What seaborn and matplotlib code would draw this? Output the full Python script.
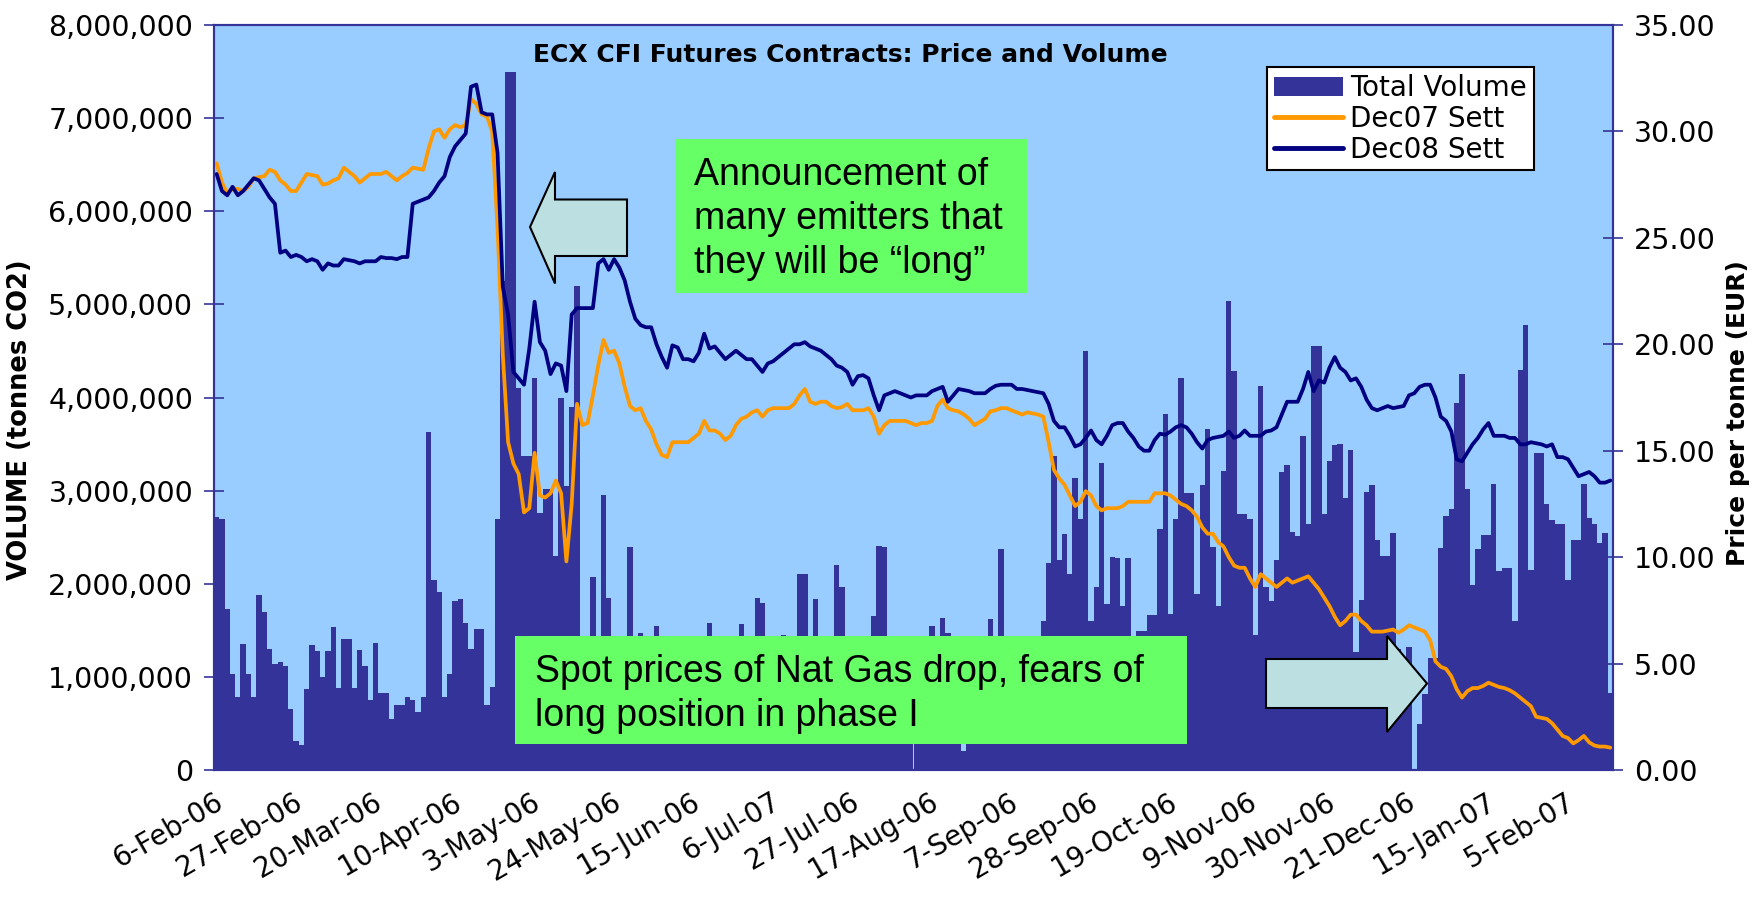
import numpy as np
import pandas as pd
import matplotlib
matplotlib.use("Agg")
import matplotlib.pyplot as plt
import matplotlib.transforms as mtransforms
import seaborn as sns
from matplotlib.patches import Rectangle, Polygon, Patch
from matplotlib.lines import Line2D
from matplotlib.ticker import FuncFormatter, MultipleLocator

# Total daily volume, million tonnes CO2 (one row = 15 trading days)
volume_mt = [
    2.72, 2.70, 1.73, 1.03, 0.78, 1.35, 1.03, 0.78, 1.88, 1.70, 1.30, 1.14, 1.16, 1.12, 0.66,
    0.31, 0.27, 0.87, 1.34, 1.28, 1.00, 1.28, 1.54, 0.88, 1.41, 1.41, 0.88, 1.29, 1.12, 0.75,
    1.36, 0.83, 0.83, 0.55, 0.70, 0.70, 0.78, 0.75, 0.62, 0.78, 3.63, 2.04, 1.91, 0.78, 1.03,
    1.82, 1.84, 1.58, 1.30, 1.51, 1.51, 0.70, 0.89, 2.69, 5.25, 7.50, 7.50, 4.10, 3.37, 3.37,
    4.21, 2.76, 3.02, 3.02, 2.30, 4.00, 3.05, 3.90, 5.20, 1.10, 1.00, 2.07, 1.42, 2.95, 1.85,
    1.20, 0.90, 1.10, 2.40, 0.90, 1.47, 0.80, 1.10, 1.55, 1.00, 0.80, 1.20, 0.90, 1.10, 0.70,
    0.90, 1.20, 1.00, 1.58, 0.80, 1.30, 1.00, 0.90, 1.20, 1.57, 1.00, 1.30, 1.85, 1.79, 1.10,
    0.80, 1.20, 1.45, 1.10, 0.90, 2.11, 2.11, 1.00, 1.84, 1.20, 0.90, 1.30, 2.20, 1.96, 1.10,
    0.80, 1.00, 1.30, 0.90, 1.65, 2.41, 2.39, 1.20, 0.90, 1.10, 1.00, 0.80, 1.20, 0.90, 1.00,
    1.55, 1.20, 1.63, 1.47, 1.00, 0.90, 0.20, 1.10, 0.80, 1.20, 1.00, 1.62, 1.20, 2.37, 1.00,
    0.90, 1.20, 0.80, 1.00, 1.30, 1.20, 1.60, 2.22, 3.37, 2.25, 2.53, 2.11, 3.14, 2.70, 4.50,
    1.60, 1.96, 3.30, 1.78, 2.29, 2.28, 1.76, 2.28, 1.20, 1.49, 1.49, 1.66, 1.66, 2.59, 3.82,
    1.68, 2.70, 4.21, 2.97, 2.97, 1.89, 3.06, 3.66, 2.40, 1.76, 3.21, 5.04, 4.28, 2.75, 2.75,
    2.70, 1.45, 4.12, 1.96, 1.81, 2.25, 3.20, 3.28, 2.56, 2.51, 3.59, 2.64, 4.55, 4.55, 2.75,
    3.32, 3.49, 3.50, 2.92, 3.44, 1.27, 1.83, 2.98, 3.06, 2.47, 2.30, 2.30, 2.54, 1.30, 1.20,
    1.32, 0.00, 0.49, 0.82, 1.20, 1.20, 2.38, 2.73, 2.80, 3.94, 4.25, 3.02, 1.99, 2.37, 2.52,
    2.52, 3.07, 2.14, 2.17, 2.17, 1.60, 4.30, 4.78, 2.15, 3.40, 3.40, 2.86, 2.68, 2.64, 2.64,
    2.04, 2.47, 2.47, 3.07, 2.71, 2.64, 2.44, 2.54, 0.83,
]

# Dec07 settlement price, EUR/t
dec07 = [
    28.5, 27.6, 27.1, 27.3, 27.3, 27.2, 27.4, 27.8, 27.85, 27.9, 28.2, 28.1, 27.7, 27.5, 27.2,
    27.2, 27.6, 28.0, 27.95, 27.9, 27.5, 27.55, 27.7, 27.8, 28.3, 28.1, 27.9, 27.6, 27.8, 28.0,
    28.0, 28.0, 28.1, 27.9, 27.7, 27.9, 28.05, 28.3, 28.25, 28.2, 29.2, 30.0, 30.1, 29.7, 30.1,
    30.3, 30.2, 30.3, 31.5, 31.3, 30.8, 30.7, 30.0, 25.5, 19.5, 15.4, 14.4, 13.9, 12.1, 12.3,
    14.9, 12.9, 12.8, 13.0, 13.6, 13.0, 9.8, 12.5, 17.2, 16.2, 16.3, 17.6, 19.0, 20.2, 19.6,
    19.7, 19.1, 18.0, 17.1, 16.9, 17.0, 16.4, 16.0, 15.3, 14.8, 14.7, 15.4, 15.4, 15.4, 15.4,
    15.6, 15.8, 16.4, 15.95, 15.95, 15.8, 15.5, 15.7, 16.2, 16.5, 16.6, 16.8, 16.9, 16.6, 16.9,
    17.0, 17.0, 17.0, 17.0, 17.2, 17.6, 17.9, 17.3, 17.2, 17.3, 17.3, 17.1, 17.0, 17.05, 17.2,
    16.9, 16.9, 16.9, 17.0, 16.6, 15.8, 16.2, 16.4, 16.4, 16.4, 16.4, 16.3, 16.2, 16.3, 16.3,
    16.4, 17.1, 17.4, 17.0, 16.9, 16.85, 16.7, 16.5, 16.2, 16.35, 16.5, 16.85, 16.9, 17.0, 17.0,
    16.9, 16.8, 16.7, 16.8, 16.75, 16.7, 16.6, 15.4, 14.1, 13.7, 13.4, 12.9, 12.4, 12.6, 13.1,
    12.9, 12.4, 12.2, 12.3, 12.3, 12.3, 12.4, 12.6, 12.6, 12.6, 12.6, 12.6, 13.0, 13.0, 13.0,
    12.9, 12.7, 12.5, 12.4, 12.2, 11.9, 11.4, 11.1, 11.1, 10.7, 10.5, 10.0, 9.6, 9.5, 9.5,
    9.0, 8.6, 9.2, 9.0, 8.8, 8.6, 8.8, 9.0, 8.8, 8.9, 9.0, 9.1, 8.8, 8.5, 8.1,
    7.7, 7.2, 6.8, 7.0, 7.3, 7.3, 7.0, 6.8, 6.5, 6.5, 6.5, 6.55, 6.6, 6.45, 6.6,
    6.8, 6.7, 6.6, 6.5, 6.1, 5.1, 4.85, 4.75, 4.4, 3.8, 3.4, 3.7, 3.85, 3.85, 3.95,
    4.1, 4.0, 3.9, 3.85, 3.75, 3.6, 3.4, 3.2, 3.0, 2.5, 2.45, 2.4, 2.2, 1.9, 1.6,
    1.5, 1.25, 1.4, 1.6, 1.3, 1.15, 1.1, 1.1, 1.05,
]

# Dec08 settlement price, EUR/t
dec08 = [
    28.0, 27.2, 27.0, 27.4, 27.0, 27.2, 27.5, 27.8, 27.7, 27.3, 26.9, 26.6, 24.3, 24.4, 24.1,
    24.2, 24.1, 23.9, 24.0, 23.9, 23.5, 23.8, 23.7, 23.7, 24.0, 23.95, 23.9, 23.8, 23.9, 23.9,
    23.9, 24.1, 24.05, 24.05, 24.0, 24.1, 24.1, 26.6, 26.7, 26.8, 26.9, 27.2, 27.6, 27.9, 28.8,
    29.3, 29.6, 29.9, 32.1, 32.2, 30.9, 30.8, 30.8, 29.0, 22.7, 21.4, 18.7, 18.4, 18.1, 19.8,
    22.0, 20.1, 19.7, 18.6, 19.1, 19.0, 17.8, 21.4, 21.7, 21.7, 21.7, 21.7, 23.8, 24.0, 23.5,
    24.0, 23.6, 23.0, 22.0, 21.2, 20.9, 20.8, 20.8, 20.0, 19.4, 18.9, 19.95, 19.85, 19.3, 19.3,
    19.2, 19.6, 20.5, 19.8, 19.9, 19.6, 19.3, 19.5, 19.7, 19.5, 19.3, 19.3, 19.0, 18.7, 19.1,
    19.2, 19.4, 19.6, 19.8, 20.0, 20.0, 20.1, 19.9, 19.8, 19.7, 19.5, 19.3, 19.0, 18.9, 18.7,
    18.1, 18.5, 18.55, 18.4, 17.6, 16.9, 17.6, 17.7, 17.8, 17.7, 17.6, 17.5, 17.6, 17.6, 17.6,
    17.8, 17.9, 18.0, 17.3, 17.6, 17.9, 17.85, 17.8, 17.7, 17.7, 17.7, 17.9, 18.05, 18.1, 18.1,
    18.1, 17.9, 17.9, 17.85, 17.8, 17.75, 17.7, 17.2, 16.4, 16.1, 16.1, 15.7, 15.2, 15.3, 15.6,
    15.95, 15.5, 15.3, 15.7, 16.2, 16.3, 16.3, 15.9, 15.6, 15.2, 15.0, 15.0, 15.5, 15.8, 15.75,
    15.9, 16.1, 16.2, 16.1, 15.8, 15.4, 15.1, 15.5, 15.6, 15.65, 15.7, 15.9, 15.6, 15.7, 15.95,
    15.7, 15.7, 15.7, 15.9, 15.95, 16.1, 16.7, 17.3, 17.3, 17.3, 17.9, 18.7, 17.8, 18.3, 18.2,
    18.9, 19.4, 18.9, 18.7, 18.3, 18.4, 18.0, 17.4, 17.0, 16.9, 17.0, 17.1, 17.0, 17.05, 17.1,
    17.6, 17.7, 18.0, 18.1, 18.1, 17.5, 16.6, 16.4, 15.9, 14.6, 14.5, 14.9, 15.3, 15.6, 16.0,
    16.3, 15.7, 15.7, 15.7, 15.6, 15.6, 15.3, 15.3, 15.4, 15.35, 15.3, 15.2, 15.3, 14.7, 14.7,
    14.6, 14.2, 13.8, 13.9, 14.0, 13.8, 13.5, 13.5, 13.6,
]

tick_labels = ["6-Feb-06", "27-Feb-06", "20-Mar-06", "10-Apr-06", "3-May-06", "24-May-06",
               "15-Jun-06", "6-Jul-07", "27-Jul-06", "17-Aug-06", "7-Sep-06", "28-Sep-06",
               "19-Oct-06", "9-Nov-06", "30-Nov-06", "21-Dec-06", "15-Jan-07", "5-Feb-07"]

vol_color = "#333399"
dec07_color = "#FF9900"
dec08_color = "#000080"
bg_color = "#99CCFF"
green = "#66FF66"
arrow_fill = "#BCE0E2"
axis_color = "#333399"

sns.set_style("white")
plt.rcParams["font.family"] = ["DejaVu Sans"]
plt.rcParams["text.color"] = "black"
plt.rcParams["axes.labelcolor"] = "black"
plt.rcParams["xtick.labelcolor"] = "black"
plt.rcParams["ytick.labelcolor"] = "black"

df = pd.DataFrame({
    "day": np.arange(len(volume_mt)),
    "volume": np.array(volume_mt) * 1e6,
    "dec07": dec07,
    "dec08": dec08,
})
n = len(df)

W, H = 1762, 900
L, R, T, B = 214, 1613, 25, 770
fig = plt.figure(figsize=(W / 100, H / 100), dpi=100)
ax = fig.add_axes([L / W, 1 - B / H, (R - L) / W, (B - T) / H])
ax.set_facecolor(bg_color)

# volume bars
sns.barplot(data=df, x="day", y="volume", native_scale=True, width=1.0, color=vol_color,
            saturation=1, errorbar=None, linewidth=0, ax=ax)

# price lines on the right axis
ax2 = ax.twinx()
sns.lineplot(data=df, x="day", y="dec07", color=dec07_color, lw=2.7, ax=ax2)
sns.lineplot(data=df, x="day", y="dec08", color=dec08_color, lw=2.7, ax=ax2)

ax.set_xlim(-0.5, n - 0.5)
ax.set_ylim(0, 8e6)
ax2.set_ylim(0, 35)

ax.yaxis.set_major_locator(MultipleLocator(1e6))
ax.yaxis.set_major_formatter(FuncFormatter(lambda v, p: f"{v:,.0f}"))
ax2.yaxis.set_major_locator(MultipleLocator(5))
ax2.yaxis.set_major_formatter(FuncFormatter(lambda v, p: f"{v:.2f}"))

ax.set_xticks(np.arange(0, n, 15) - 0.5)
ax.set_xticklabels(tick_labels, rotation=30, ha="right", va="top", rotation_mode="anchor")
shift = mtransforms.ScaledTranslation(-12 / 100, 0, fig.dpi_scale_trans)
for lab in ax.get_xticklabels():
    lab.set_transform(lab.get_transform() + shift)

ax.tick_params(axis="y", direction="inout", length=14, width=1.2, color=axis_color,
               labelsize=20.5, pad=8)
ax2.tick_params(axis="y", direction="inout", length=14, width=1.2, color=axis_color,
                labelsize=20.5, pad=8)
ax.tick_params(axis="x", direction="out", length=6, width=1.0, color="#7F7FD0",
               labelsize=20, pad=7)

for a in (ax, ax2):
    for s in a.spines.values():
        s.set_color(axis_color)
        s.set_linewidth(1.5)

def fx(x):
    return (x - L) / (R - L)

def fy(y):
    return (B - y) / (B - T)

ax.set_xlabel("")
ax2.set_xlabel("")
ax.set_ylabel("VOLUME (tonnes CO2)", fontsize=18.5, fontweight="bold")
ax.yaxis.label.set_va("center")
ax.yaxis.set_label_coords(fx(20), fy(420))
ax2.set_ylabel("Price per tonne (EUR)", fontsize=18, fontweight="bold", rotation=90)
ax2.yaxis.label.set_va("center")
ax2.yaxis.set_label_coords(fx(1738), fy(413))

ax2.text(fx(850), fy(55), "ECX CFI Futures Contracts: Price and Volume", transform=ax2.transAxes,
         ha="center", va="center", fontsize=18, fontweight="bold", zorder=6)

# green comment boxes
ax2.add_patch(Rectangle((fx(675), fy(293)), fx(1027) - fx(675), fy(139) - fy(293),
                        transform=ax2.transAxes, facecolor=green, edgecolor="none", zorder=5))
ax2.text(fx(694), fy(219), "Announcement of\nmany emitters that\nthey will be \u201clong\u201d",
         transform=ax2.transAxes, ha="left", va="center", family="Liberation Sans",
         fontsize=27, linespacing=1.27, zorder=6)

ax2.add_patch(Rectangle((fx(515), fy(744)), fx(1187) - fx(515), fy(636) - fy(744),
                        transform=ax2.transAxes, facecolor=green, edgecolor="none", zorder=5))
ax2.text(fx(535), fy(694), "Spot prices of Nat Gas drop, fears of\nlong position in phase I",
         transform=ax2.transAxes, ha="left", va="center", family="Liberation Sans",
         fontsize=27, linespacing=1.27, zorder=6)

# block arrows
left_arrow = [(530, 227), (555, 172), (555, 199.5), (627, 199.5), (627, 256), (555, 256), (555, 283.5)]
right_arrow = [(1266, 659), (1387, 659), (1387, 636), (1427, 683.5), (1387, 732), (1387, 708), (1266, 708)]
for pts in (left_arrow, right_arrow):
    ax2.add_patch(Polygon([(fx(x), fy(y)) for x, y in pts], closed=True, transform=ax2.transAxes,
                          facecolor=arrow_fill, edgecolor="black", lw=1.5, zorder=5))

handles = [Patch(facecolor=vol_color, edgecolor="none"),
           Line2D([], [], color=dec07_color, lw=3.5),
           Line2D([], [], color=dec08_color, lw=3.5)]
leg = ax2.legend(handles, ["Total Volume", "Dec07 Sett", "Dec08 Sett"], loc="upper left",
                 bbox_to_anchor=(1267 / W, 1 - 67 / H), bbox_transform=fig.transFigure,
                 frameon=True, fancybox=False, edgecolor="black", framealpha=1, fontsize=20,
                 handlelength=2.5, handletextpad=0.25, labelspacing=0.1, borderpad=0.25,
                 borderaxespad=0)
leg.get_frame().set_linewidth(1.5)
leg.set_zorder(10)

fig.savefig("out.png", dpi=100, facecolor="white")
